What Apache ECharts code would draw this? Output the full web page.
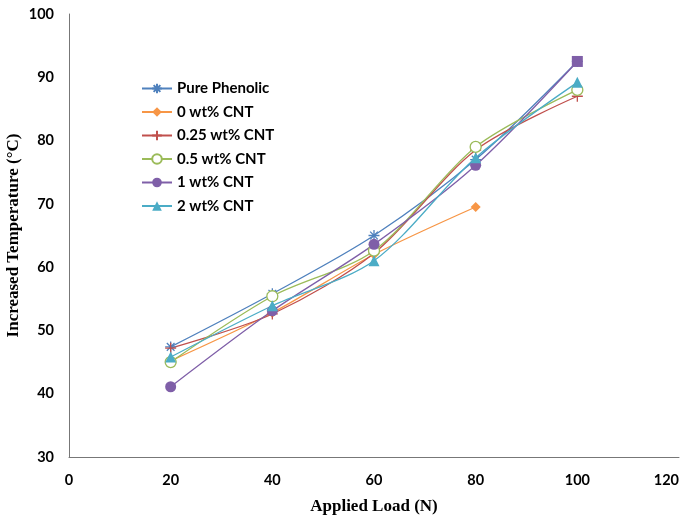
<!DOCTYPE html>
<html>
	<head>
		<meta charset="UTF-8">
		<title></title>
		<style>
			html, body {margin: 0; padding: 0; background: #fff;}
		</style>
	</head>
	<body>
		<div id="echart" style="width: 686px;height: 521px;overflow: hidden;"></div>
		<script src="https://cdn.jsdelivr.net/npm/echarts@6/dist/echarts.min.js" type="text/javascript" charset="utf-8"></script>
		<script type="text/javascript">
			// 数据
			var loads = [20, 40, 60, 80, 100];
			var purePhenolic = [47.4, 55.8, 65.0, 77.0, 92.5];
			var cnt0 = [45.2, 52.8, 62.0, 69.5];
			var cnt025 = [47.2, 52.6, 62.2, 78.5, 87.0];
			var cnt05 = [45.0, 55.4, 62.6, 79.0, 88.0];
			var cnt1 = [41.1, 53.1, 63.6, 76.1, 92.5];
			var cnt2 = [45.8, 53.9, 61.0, 77.3, 89.2];
			var seriesNames = ['Pure Phenolic', '0 wt% CNT', '0.25 wt% CNT', '0.5 wt% CNT', '1 wt% CNT', '2 wt% CNT'];

			function pairs(ys) {
				var out = [];
				for (var i = 0; i < ys.length; i++) {
					out.push([loads[i], ys[i]]);
				}
				return out;
			}

			var starPath = 'path://M5,0L5,10M0,5L10,5M1.5,1.5L8.5,8.5M8.5,1.5L1.5,8.5';
			var plusPath = 'path://M5,0L5,10M0,5L10,5';

			var purpleData = pairs(cnt1);
			purpleData[4] = {value: purpleData[4], symbol: 'rect', symbolSize: 11};

			var myChart = echarts.init(document.getElementById('echart'));
			myChart.setOption({
				animation: false,
				textStyle: {fontFamily: 'Lato'},
				grid: {left: 69, right: 7, top: 14, bottom: 64, containLabel: false, outerBoundsMode: 'none'},
				legend: {
					orient: 'vertical',
					left: 136,
					top: 76,
					itemGap: 8.5,
					itemWidth: 30,
					itemHeight: 12,
					textStyle: {fontSize: 15, fontWeight: 'bold', color: '#000', fontFamily: 'Lato'},
					data: seriesNames
				},
				xAxis: {
					type: 'value',
					min: 0,
					max: 120,
					interval: 20,
					name: 'Applied Load (N)',
					nameLocation: 'middle',
					nameGap: 41,
					nameMoveOverlap: false,
					nameTextStyle: {fontFamily: 'Liberation Serif', fontWeight: 'bold', fontSize: 17, color: '#000'},
					axisLine: {lineStyle: {color: '#777', width: 1}},
					axisTick: {show: false},
					splitLine: {show: false},
					axisLabel: {
						fontSize: 14.5, fontWeight: 'bold', color: '#000', margin: 16,
						alignMaxLabel: 'right'
					}
				},
				yAxis: {
					type: 'value',
					min: 30,
					max: 100,
					interval: 10,
					name: 'Increased Temperature (\u00B0C)',
					nameLocation: 'middle',
					nameGap: 47,
					nameMoveOverlap: false,
					nameTextStyle: {fontFamily: 'Liberation Serif', fontWeight: 'bold', fontSize: 17, color: '#000'},
					axisLine: {show: true, lineStyle: {color: '#777', width: 1}},
					axisTick: {show: false},
					splitLine: {show: false},
					axisLabel: {fontSize: 14.5, fontWeight: 'bold', color: '#000', margin: 15}
				},
				series: [{
					name: seriesNames[0],
					type: 'line',
					smooth: 0.3,
					symbol: starPath,
					symbolSize: 11,
					itemStyle: {color: '#4F81BD', borderColor: '#4F81BD', borderWidth: 1.3},
					lineStyle: {color: '#4F81BD', width: 1.3},
					data: pairs(purePhenolic)
				}, {
					name: seriesNames[1],
					type: 'line',
					smooth: 0.3,
					symbol: 'diamond',
					symbolSize: 10,
					itemStyle: {color: '#F79646'},
					lineStyle: {color: '#F79646', width: 1.3},
					data: pairs(cnt0)
				}, {
					name: seriesNames[2],
					type: 'line',
					smooth: 0.3,
					symbol: plusPath,
					symbolSize: 11,
					itemStyle: {color: '#C0504D', borderColor: '#C0504D', borderWidth: 1.3},
					lineStyle: {color: '#C0504D', width: 1.3},
					data: pairs(cnt025)
				}, {
					name: seriesNames[3],
					type: 'line',
					smooth: 0.3,
					symbol: 'circle',
					symbolSize: 11,
					itemStyle: {color: '#fff', borderColor: '#9BBB59', borderWidth: 1.3},
					lineStyle: {color: '#9BBB59', width: 1.3},
					data: pairs(cnt05)
				}, {
					name: seriesNames[4],
					type: 'line',
					smooth: 0.3,
					symbol: 'circle',
					symbolSize: 11,
					itemStyle: {color: '#7F5FA8'},
					lineStyle: {color: '#7F5FA8', width: 1.3},
					data: purpleData
				}, {
					name: seriesNames[5],
					type: 'line',
					smooth: 0.3,
					symbol: 'triangle',
					symbolSize: 11,
					itemStyle: {color: '#4BACC6'},
					lineStyle: {color: '#4BACC6', width: 1.3},
					data: pairs(cnt2)
				}]
			});
		</script>
	</body>
</html>
